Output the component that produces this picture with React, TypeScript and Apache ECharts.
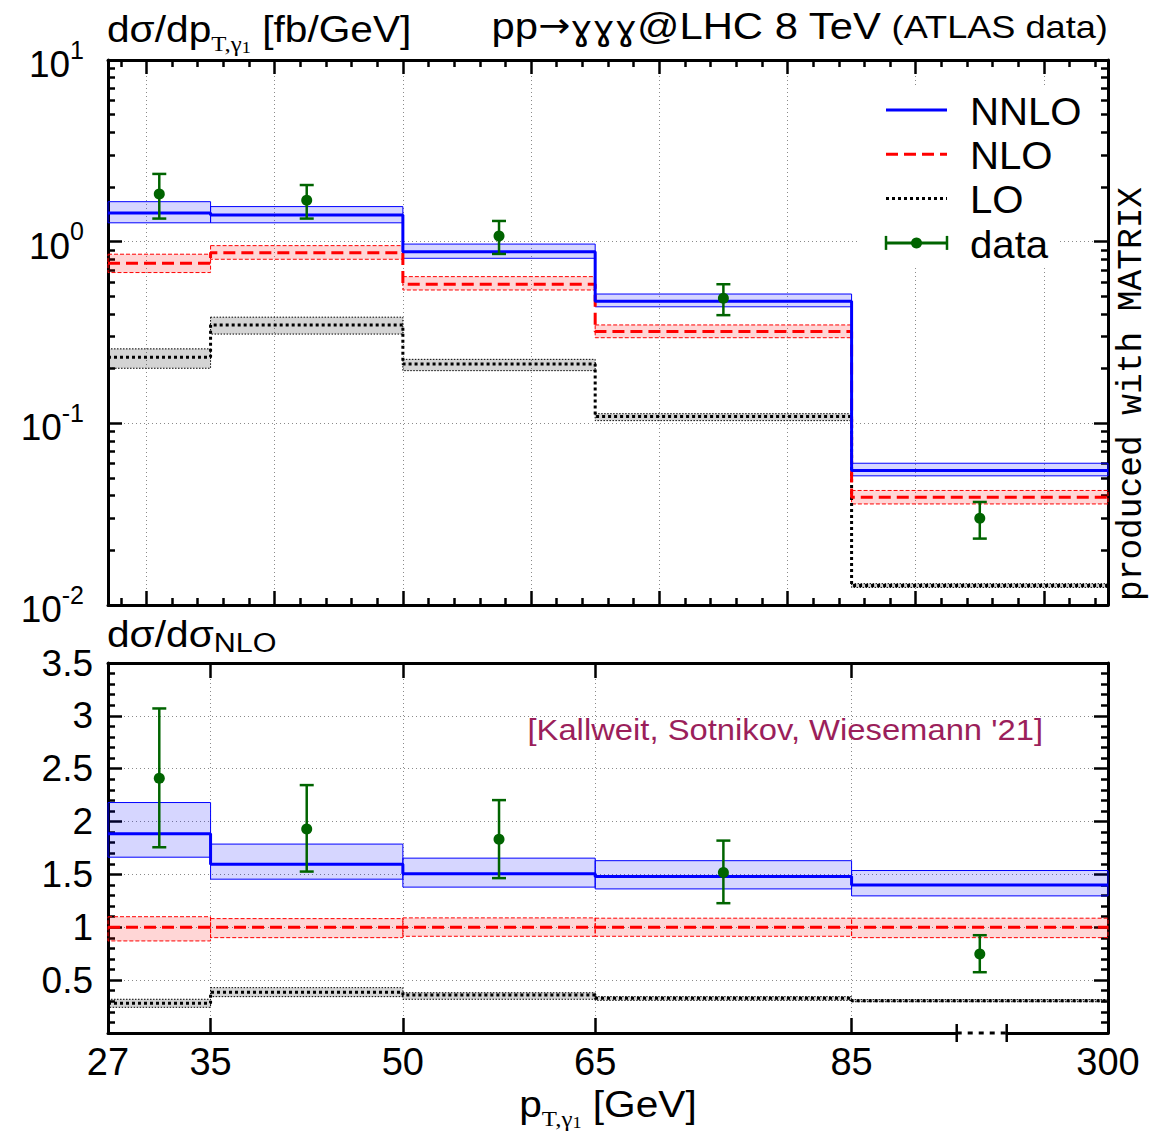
import React, { useEffect, useRef } from 'react';
import * as echarts from 'echarts';

// ---------------- data ----------------
const binEdges = [27, 35, 50, 65, 85, 300];
const dataPt = [31, 42.5, 57.5, 75, 192.5];
const xTickValues = [27, 35, 50, 65, 85, 300];
const xTickLabels = ['27', '35', '50', '65', '85', '300'];
const axisBreak = [93.2, 97.1]; // drawn position of the axis break (display units)

// top panel: dσ/dpT [fb/GeV]
const nnlo = [1.44, 1.40, 0.88, 0.47, 0.055];
const nnloUp = [1.66, 1.56, 0.97, 0.515, 0.0603];
const nnloDn = [1.27, 1.27, 0.81, 0.438, 0.0514];
const nlo = [0.76, 0.87, 0.583, 0.32, 0.0392];
const nloUp = [0.853, 0.951, 0.642, 0.348, 0.0427];
const nloDn = [0.676, 0.80, 0.542, 0.296, 0.036];
const lo = [0.231, 0.348, 0.212, 0.109, 0.0128];
const loUp = [0.257, 0.384, 0.225, 0.113, 0.0131];
const loDn = [0.201, 0.310, 0.195, 0.1035, 0.0125];
const dat = [1.83, 1.69, 1.075, 0.488, 0.030];
const datUp = [2.36, 2.05, 1.30, 0.583, 0.0369];
const datDn = [1.34, 1.34, 0.856, 0.394, 0.0232];

// bottom panel: ratio to NLO
const rNnlo = [1.884, 1.597, 1.506, 1.48, 1.40];
const rNnloUp = [2.18, 1.787, 1.654, 1.63, 1.537];
const rNnloDn = [1.663, 1.455, 1.38, 1.363, 1.297];
const rNlo = [1, 1, 1, 1, 1];
const rNloUp = [1.10, 1.082, 1.089, 1.086, 1.086];
const rNloDn = [0.871, 0.902, 0.915, 0.915, 0.902];
const rLo = [0.281, 0.385, 0.36, 0.328, 0.306];
const rLoUp = [0.319, 0.429, 0.381, 0.344, 0.316];
const rLoDn = [0.243, 0.344, 0.319, 0.309, 0.296];
const rDat = [2.41, 1.93, 1.833, 1.518, 0.748];
const rDatUp = [3.07, 2.345, 2.203, 1.82, 0.925];
const rDatDn = [1.757, 1.527, 1.465, 1.228, 0.575];

// ---------------- helpers ----------------
const BRK = 85;
const HIGH = 300;
const SPAN = 20;
const tx = (p: number) => (p <= BRK ? p : BRK + ((p - BRK) * SPAN) / (HIGH - BRK));
const XMIN = tx(binEdges[0]);
const XMAX = tx(binEdges[binEdges.length - 1]);

const SANS = '"Liberation Sans", Arial, Helvetica, sans-serif';
const SERIF = '"Liberation Serif", "Times New Roman", serif';
const MONO = '"Liberation Mono", "Courier New", monospace';
const DEJAVU = '"DejaVu Sans", sans-serif';

const BLUE = '#0000ff';
const RED = '#ff0000';
const GREEN = '#006400';
const PURPLE = '#9b1f5b';
const SX = 1.13; // horizontal stretch of the reference lettering

const bandData = (dn: number[], up: number[]) =>
  dn.map((d, i) => [tx(binEdges[i]), tx(binEdges[i + 1]), d, up[i]]);
const stepData = (v: number[]) => binEdges.map((e, i) => [tx(e), v[Math.min(i, v.length - 1)]]);
const errData = (v: number[], dn: number[], up: number[]) =>
  dataPt.map((p, i) => [tx(p), v[i], dn[i], up[i]]);

function bandSeries(data: any[], xi: number, yi: number, fill: string, stroke: string, dash: any) {
  return {
    type: 'custom',
    xAxisIndex: xi,
    yAxisIndex: yi,
    data,
    z: 2,
    silent: true,
    encode: { x: [0, 1], y: [2, 3] },
    renderItem: (params: any, api: any) => {
      const a = api.coord([api.value(0), api.value(3)]);
      const b = api.coord([api.value(1), api.value(2)]);
      return {
        type: 'rect',
        shape: { x: a[0], y: a[1], width: b[0] - a[0], height: b[1] - a[1] },
        style: { fill, stroke, lineWidth: 1, lineDash: dash },
      };
    },
  };
}

function stepSeries(data: any[], xi: number, yi: number, color: string, type: any) {
  return {
    type: 'line',
    step: 'end',
    xAxisIndex: xi,
    yAxisIndex: yi,
    data,
    symbol: 'none',
    showSymbol: false,
    silent: true,
    z: 3,
    lineStyle: { color, width: 3, type },
  };
}

function errSeries(data: any[], xi: number, yi: number) {
  return {
    type: 'custom',
    xAxisIndex: xi,
    yAxisIndex: yi,
    data,
    z: 5,
    silent: true,
    encode: { x: 0, y: [1, 2, 3] },
    renderItem: (params: any, api: any) => {
      const x = api.value(0);
      const c = api.coord([x, api.value(1)]);
      const l = api.coord([x, api.value(2)]);
      const h = api.coord([x, api.value(3)]);
      const cw = 7;
      const st = { stroke: GREEN, lineWidth: 2.5 };
      return {
        type: 'group',
        children: [
          { type: 'line', shape: { x1: c[0], y1: l[1], x2: c[0], y2: h[1] }, style: st },
          { type: 'line', shape: { x1: c[0] - cw, y1: l[1], x2: c[0] + cw, y2: l[1] }, style: st },
          { type: 'line', shape: { x1: c[0] - cw, y1: h[1], x2: c[0] + cw, y2: h[1] }, style: st },
          { type: 'circle', shape: { cx: c[0], cy: c[1], r: 5.5 }, style: { fill: GREEN } },
        ],
      };
    },
  };
}

const frame = { show: true, onZero: false, lineStyle: { color: '#000', width: 3 } };
const noLine = { show: false, onZero: false };
const tickStyle = { color: '#000', width: 2.5 };
const gridDots = { show: true, lineStyle: { color: '#8a8a8a', width: 1, type: [1, 3] } };

export default function App() {
  const ref = useRef<HTMLDivElement>(null);

  useEffect(() => {
    if (!ref.current) return;
    const chart = echarts.init(ref.current, null, { renderer: 'svg' });

    const cv = document.createElement('canvas');
    const ctx = cv.getContext('2d') as CanvasRenderingContext2D;
    const tw = (t: string, font: string) => {
      ctx.font = font;
      return ctx.measureText(t).width;
    };

    // sequence of text pieces placed left to right, stretched horizontally by SX
    type Piece = { t: string; size: number; fam: string; dy: number };
    const seq = (pieces: Piece[], x0: number, y: number, anchor: 'left' | 'right' | 'center') => {
      const widths = pieces.map((p) => tw(p.t, `${p.size}px ${p.fam}`) * SX);
      const total = widths.reduce((a, b) => a + b, 0);
      let x = anchor === 'left' ? x0 : anchor === 'right' ? x0 - total : x0 - total / 2;
      return pieces.map((p, i) => {
        const el = {
          type: 'text',
          x,
          y: y + p.dy,
          scaleX: SX,
          z: 60,
          silent: true,
          style: {
            text: p.t,
            font: `${p.size}px ${p.fam}`,
            fill: '#000',
            align: 'left',
            textAlign: 'left',
            verticalAlign: 'middle',
            textVerticalAlign: 'middle',
          },
        };
        x += widths[i];
        return el;
      });
    };

    const titleTL = seq(
      [
        { t: 'dσ/dp', size: 36, fam: SANS, dy: 0 },
        { t: 'T,γ', size: 22, fam: SERIF, dy: 15 },
        { t: '1', size: 16, fam: SERIF, dy: 19 },
        { t: ' [fb/GeV]', size: 36, fam: SANS, dy: 0 },
      ],
      107,
      29,
      'left'
    );
    const titleTR = seq(
      [
        { t: 'pp', size: 37, fam: SANS, dy: 0 },
        { t: '→', size: 34, fam: DEJAVU, dy: -1 },
        { t: 'ɣɣɣ', size: 33, fam: DEJAVU, dy: 2 },
        { t: '@LHC 8 TeV', size: 37, fam: SANS, dy: 0 },
        { t: ' (ATLAS data)', size: 32, fam: SANS, dy: 1 },
      ],
      1108,
      26,
      'right'
    );
    const titleRatio = seq(
      [
        { t: 'dσ/dσ', size: 36, fam: SANS, dy: 0 },
        { t: 'NLO', size: 27, fam: SANS, dy: 9 },
      ],
      107,
      634,
      'left'
    );
    const titleX = seq(
      [
        { t: 'p', size: 36, fam: SANS, dy: 0 },
        { t: 'T,γ', size: 22, fam: SERIF, dy: 15 },
        { t: '1', size: 16, fam: SERIF, dy: 19 },
        { t: ' [GeV]', size: 36, fam: SANS, dy: 0 },
      ],
      608,
      1104,
      'center'
    );

    const legendItems = [
      { name: 'NNLO', color: BLUE, dash: null as any },
      { name: 'NLO', color: RED, dash: [12, 6] },
      { name: 'LO', color: '#000', dash: [3, 3] },
      { name: 'data', color: GREEN, dash: null as any },
    ];
    const lgX0 = 886;
    const lgX1 = 947;
    const lgY0 = 110;
    const lgDy = 44.3;
    const legendEls: any[] = [
      { type: 'rect', z: 50, silent: true, shape: { x: 858, y: 88, width: 202, height: 178 }, style: { fill: '#fff' } },
    ];
    legendItems.forEach((it, i) => {
      const y = lgY0 + i * lgDy;
      legendEls.push({
        type: 'line',
        z: 55,
        silent: true,
        shape: { x1: lgX0, y1: y, x2: lgX1, y2: y },
        style: { stroke: it.color, lineWidth: 3, lineDash: it.dash },
      });
      if (it.name === 'data') {
        [lgX0, lgX1].forEach((xx) =>
          legendEls.push({
            type: 'line',
            z: 55,
            silent: true,
            shape: { x1: xx, y1: y - 7, x2: xx, y2: y + 7 },
            style: { stroke: it.color, lineWidth: 2.5 },
          })
        );
        legendEls.push({
          type: 'circle',
          z: 56,
          silent: true,
          shape: { cx: (lgX0 + lgX1) / 2, cy: y, r: 5.5 },
          style: { fill: it.color },
        });
      }
      legendEls.push({
        type: 'text',
        z: 56,
        silent: true,
        x: 970,
        y: y + 1,
        scaleX: 1.03,
        style: {
          text: it.name,
          font: `39px ${SANS}`,
          fill: '#000',
          align: 'left',
          textAlign: 'left',
          verticalAlign: 'middle',
          textVerticalAlign: 'middle',
        },
      });
    });

    const majorTop: number[] = [];
    const minorTop: number[] = [];
    for (let v = 28; v < XMAX; v += 2) {
      if (v % 10 === 0) majorTop.push(v);
      else minorTop.push(v);
    }
    const minorLog: number[] = [];
    for (let d = -2; d < 1; d++) {
      for (let k = 2; k <= 9; k++) minorLog.push(d + Math.log10(k));
    }
    const ratioTicks = xTickValues.slice(1, -1).map(tx);

    const xBase = { type: 'value', min: XMIN, max: XMAX, axisLabel: { show: false }, splitLine: { show: false } };
    const xAxis = [
      {
        ...xBase,
        gridIndex: 0,
        position: 'bottom',
        axisLine: frame,
        axisTick: { show: true, inside: true, length: 14, lineStyle: tickStyle, customValues: majorTop },
        splitLine: gridDots,
      },
      {
        ...xBase,
        gridIndex: 0,
        position: 'bottom',
        axisLine: noLine,
        axisTick: { show: true, inside: true, length: 7, lineStyle: tickStyle, customValues: minorTop },
      },
      {
        ...xBase,
        gridIndex: 0,
        position: 'top',
        axisLine: frame,
        axisTick: { show: true, inside: true, length: 14, lineStyle: tickStyle, customValues: majorTop },
      },
      {
        ...xBase,
        gridIndex: 0,
        position: 'top',
        axisLine: noLine,
        axisTick: { show: true, inside: true, length: 7, lineStyle: tickStyle, customValues: minorTop },
      },
      {
        ...xBase,
        gridIndex: 1,
        position: 'bottom',
        axisLine: frame,
        axisTick: { show: true, inside: true, length: 15, lineStyle: tickStyle, customValues: ratioTicks },
        axisLabel: {
          show: true,
          customValues: xTickValues.map(tx),
          formatter: (v: number) => {
            const i = xTickValues.findIndex((t) => Math.abs(tx(t) - v) < 1e-6);
            return i >= 0 ? xTickLabels[i] : '';
          },
          fontSize: 38,
          fontFamily: SANS,
          color: '#000',
          margin: 10,
        },
        splitLine: gridDots,
      },
      {
        ...xBase,
        gridIndex: 1,
        position: 'top',
        axisLine: frame,
        axisTick: { show: true, inside: true, length: 15, lineStyle: tickStyle, customValues: ratioTicks },
      },
    ];

    const logFmt = (v: number) => `{b|10}{s|${Math.round(Math.log10(v))}}`;
    const yAxis = [
      {
        gridIndex: 0,
        type: 'log',
        logBase: 10,
        min: 0.01,
        max: 10,
        position: 'left',
        axisLine: frame,
        axisTick: { show: true, inside: true, length: 14, lineStyle: tickStyle },
        axisLabel: {
          show: true,
          formatter: logFmt,
          margin: 24,
          showMinLabel: true,
          showMaxLabel: true,
          rich: {
            b: { fontSize: 37, fontFamily: SANS, color: '#000', lineHeight: 46, verticalAlign: 'bottom' },
            s: { fontSize: 25, fontFamily: SANS, color: '#000', lineHeight: 16, verticalAlign: 'top' },
          },
        },
        splitLine: gridDots,
      },
      {
        gridIndex: 0,
        type: 'value',
        min: -2,
        max: 1,
        position: 'left',
        axisLine: noLine,
        axisTick: { show: true, inside: true, length: 7, lineStyle: tickStyle, customValues: minorLog },
        axisLabel: { show: false },
        splitLine: { show: false },
      },
      {
        gridIndex: 0,
        type: 'log',
        logBase: 10,
        min: 0.01,
        max: 10,
        position: 'right',
        axisLine: frame,
        axisTick: { show: true, inside: true, length: 14, lineStyle: tickStyle },
        axisLabel: { show: false },
        splitLine: { show: false },
      },
      {
        gridIndex: 0,
        type: 'value',
        min: -2,
        max: 1,
        position: 'right',
        axisLine: noLine,
        axisTick: { show: true, inside: true, length: 7, lineStyle: tickStyle, customValues: minorLog },
        axisLabel: { show: false },
        splitLine: { show: false },
      },
      {
        gridIndex: 1,
        type: 'value',
        min: 0,
        max: 3.5,
        interval: 0.5,
        position: 'left',
        axisLine: frame,
        axisTick: { show: true, inside: true, length: 14, lineStyle: tickStyle },
        minorTick: { show: true, splitNumber: 5, length: 7, lineStyle: tickStyle },
        axisLabel: {
          show: true,
          formatter: (v: number) => (v === 0 ? '' : String(v)),
          fontSize: 37,
          fontFamily: SANS,
          color: '#000',
          margin: 15,
          showMinLabel: true,
          showMaxLabel: true,
        },
        splitLine: gridDots,
      },
      {
        gridIndex: 1,
        type: 'value',
        min: 0,
        max: 3.5,
        interval: 0.5,
        position: 'right',
        axisLine: frame,
        axisTick: { show: true, inside: true, length: 14, lineStyle: tickStyle },
        minorTick: { show: true, splitNumber: 5, length: 7, lineStyle: tickStyle },
        axisLabel: { show: false },
        splitLine: { show: false },
      },
    ];

    const series: any[] = [
      // top panel
      bandSeries(bandData(loDn, loUp), 0, 0, 'rgba(0,0,0,0.17)', '#000', [1.5, 1.5]),
      bandSeries(bandData(nloDn, nloUp), 0, 0, 'rgba(255,0,0,0.16)', RED, [4, 2]),
      bandSeries(bandData(nnloDn, nnloUp), 0, 0, 'rgba(0,0,255,0.16)', BLUE, null),
      stepSeries(stepData(lo), 0, 0, '#000', [3, 3]),
      stepSeries(stepData(nlo), 0, 0, RED, [12, 6]),
      stepSeries(stepData(nnlo), 0, 0, BLUE, 'solid'),
      errSeries(errData(dat, datDn, datUp), 0, 0),
      // ratio panel
      bandSeries(bandData(rLoDn, rLoUp), 4, 4, 'rgba(0,0,0,0.17)', '#000', [1.5, 1.5]),
      bandSeries(bandData(rNloDn, rNloUp), 4, 4, 'rgba(255,0,0,0.16)', RED, [4, 2]),
      bandSeries(bandData(rNnloDn, rNnloUp), 4, 4, 'rgba(0,0,255,0.16)', BLUE, null),
      stepSeries(stepData(rLo), 4, 4, '#000', [3, 3]),
      stepSeries(stepData(rNlo), 4, 4, RED, [12, 6]),
      stepSeries(stepData(rNnlo), 4, 4, BLUE, 'solid'),
      errSeries(errData(rDat, rDatDn, rDatUp), 4, 4),
      // axis break marker on the ratio panel's x axis
      {
        type: 'custom',
        xAxisIndex: 4,
        yAxisIndex: 4,
        data: [[axisBreak[0], axisBreak[1]]],
        z: 20,
        silent: true,
        clip: false,
        encode: { x: [0, 1] },
        renderItem: (params: any, api: any) => {
          const a = api.coord([api.value(0), 0]);
          const b = api.coord([api.value(1), 0]);
          const st = { stroke: '#000', lineWidth: 2.5 };
          return {
            type: 'group',
            children: [
              { type: 'rect', shape: { x: a[0] + 1, y: a[1] - 3, width: b[0] - a[0] - 2, height: 6 }, style: { fill: '#fff' } },
              { type: 'line', shape: { x1: a[0], y1: a[1], x2: b[0], y2: b[1] }, style: { stroke: '#000', lineWidth: 3, lineDash: [5, 6] } },
              { type: 'line', shape: { x1: a[0], y1: a[1] - 9, x2: a[0], y2: a[1] + 9 }, style: st },
              { type: 'line', shape: { x1: b[0], y1: b[1] - 9, x2: b[0], y2: b[1] + 9 }, style: st },
            ],
          };
        },
      },
    ];

    chart.setOption({
      animation: false,
      backgroundColor: '#fff',
      grid: [
        { left: 108, top: 60, width: 1000, height: 545, containLabel: false },
        { left: 108, top: 663, width: 1000, height: 370, containLabel: false },
      ],
      xAxis,
      yAxis,
      series,
      graphic: [
        ...titleTL,
        ...titleTR,
        ...titleRatio,
        ...titleX,
        ...legendEls,
        {
          type: 'text',
          x: 1131,
          y: 601,
          rotation: Math.PI / 2,
          z: 60,
          silent: true,
          style: {
            text: 'produced with MATRIX',
            font: `34.5px ${MONO}`,
            fill: '#000',
            align: 'left',
            textAlign: 'left',
            verticalAlign: 'middle',
            textVerticalAlign: 'middle',
          },
        },
        {
          type: 'text',
          x: 1043,
          y: 730,
          scaleX: SX,
          z: 60,
          silent: true,
          style: {
            text: "[Kallweit, Sotnikov, Wiesemann '21]",
            font: `29px ${SANS}`,
            fill: PURPLE,
            align: 'right',
            textAlign: 'right',
            verticalAlign: 'middle',
            textVerticalAlign: 'middle',
          },
        },
      ],
    });

    return () => chart.dispose();
  }, []);

  return (
    <div
      ref={ref}
      style={{ position: 'absolute', left: 0, top: 0, width: 1151, height: 1139, background: '#fff' }}
    />
  );
}
